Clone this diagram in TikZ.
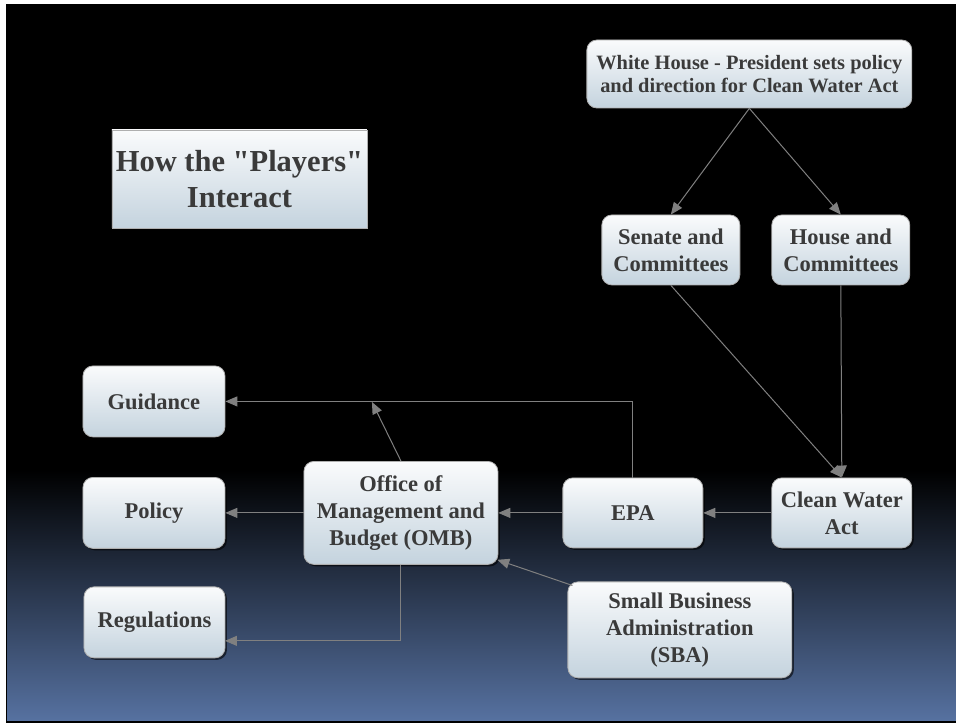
\documentclass[tikz,border=0pt]{standalone}
\usepackage{fontspec}
\setmainfont{Liberation Serif}[Ligatures=TeXOff]
\usetikzlibrary{arrows.meta,shadows}
\definecolor{slideblue}{RGB}{86,113,160}
\definecolor{boxtop}{RGB}{250,251,252}
\definecolor{boxbot}{RGB}{196,211,222}
\definecolor{boxline}{RGB}{175,175,175}
\definecolor{linegray}{RGB}{128,128,128}
\definecolor{txt}{RGB}{58,58,58}
\tikzset{
  box/.style={rounded corners=10pt, draw=boxline, line width=0.8pt,
    top color=boxtop, bottom color=boxbot, inner sep=0pt, align=center,
    text=txt, font=\bfseries\fontsize{22.5}{27}\selectfont,
    drop shadow={shadow xshift=2pt,shadow yshift=-2pt,opacity=0.6,fill=black}},
  conn/.style={draw=linegray, line width=1pt, -{Triangle[length=12pt,width=10pt]}},
}
\begin{document}
\begin{tikzpicture}[x=1pt,y=-1pt]
\fill[white] (0,0) rectangle (956,723);
\fill[black] (6,4) rectangle (956,723);
\node[anchor=north west, inner sep=0pt, minimum width=949pt, minimum height=250pt,
  top color=black, bottom color=slideblue] (bg) at (7,470) {};
\useasboundingbox (0,0) rectangle (956,723);

\node[box, font=\bfseries\fontsize{20.4}{23.5}\selectfont, minimum width=325pt, minimum height=68pt] (wh) at (749.5,74)
  {White House - President sets policy\\and direction for Clean Water Act};
\node[box, rounded corners=0pt, font=\bfseries\fontsize{30.5}{36}\selectfont, minimum width=255pt, minimum height=98pt] (title) at (239.5,179)
  {How the "Players"\\Interact};
\node[box, minimum width=138pt, minimum height=70pt] (senate) at (671,250) {Senate and\\Committees};
\node[box, minimum width=138pt, minimum height=70pt] (house) at (841,250) {House and\\Committees};
\node[box, minimum width=142pt, minimum height=71pt] (guid) at (154,401.5) {Guidance};
\node[box, minimum width=142pt, minimum height=71pt] (policy) at (154,513) {Policy};
\node[box, minimum width=141pt, minimum height=71pt] (regs) at (154.5,622.5) {Regulations};
\node[box, minimum width=194pt, minimum height=103pt] (omb) at (401,513) {Office of\\Management and\\Budget (OMB)};
\node[box, minimum width=140pt, minimum height=70pt] (epa) at (633,513) {EPA};
\node[box, minimum width=140pt, minimum height=70pt] (cwa) at (842,513) {Clean Water\\Act};
\node[box, minimum width=224pt, minimum height=96pt] (sba) at (680,630) {Small Business\\Administration\\(SBA)};

\coordinate (g1) at (372,402);
\coordinate (r1) at (225,641);

\draw[conn] (wh.south) -- (senate.north);
\draw[conn] (wh.south) -- (house.north);
\draw[conn] (senate.south) -- (cwa.north);
\draw[conn] (house.south) -- (cwa.north);
\draw[conn] (cwa.west) -- (epa.east);
\draw[conn] (epa.west) -- (omb.east);
\draw[conn] (epa.north) |- (guid.east);
\draw[conn] (omb.north) -- (g1);
\draw[conn] (omb.west) -- (policy.east);
\draw[conn] (omb.south) |- (r1);
\draw[conn] ([xshift=5pt,yshift=-4pt]sba.north west) -- ([xshift=-1pt,yshift=5pt]omb.south east);
\end{tikzpicture}
\end{document}
